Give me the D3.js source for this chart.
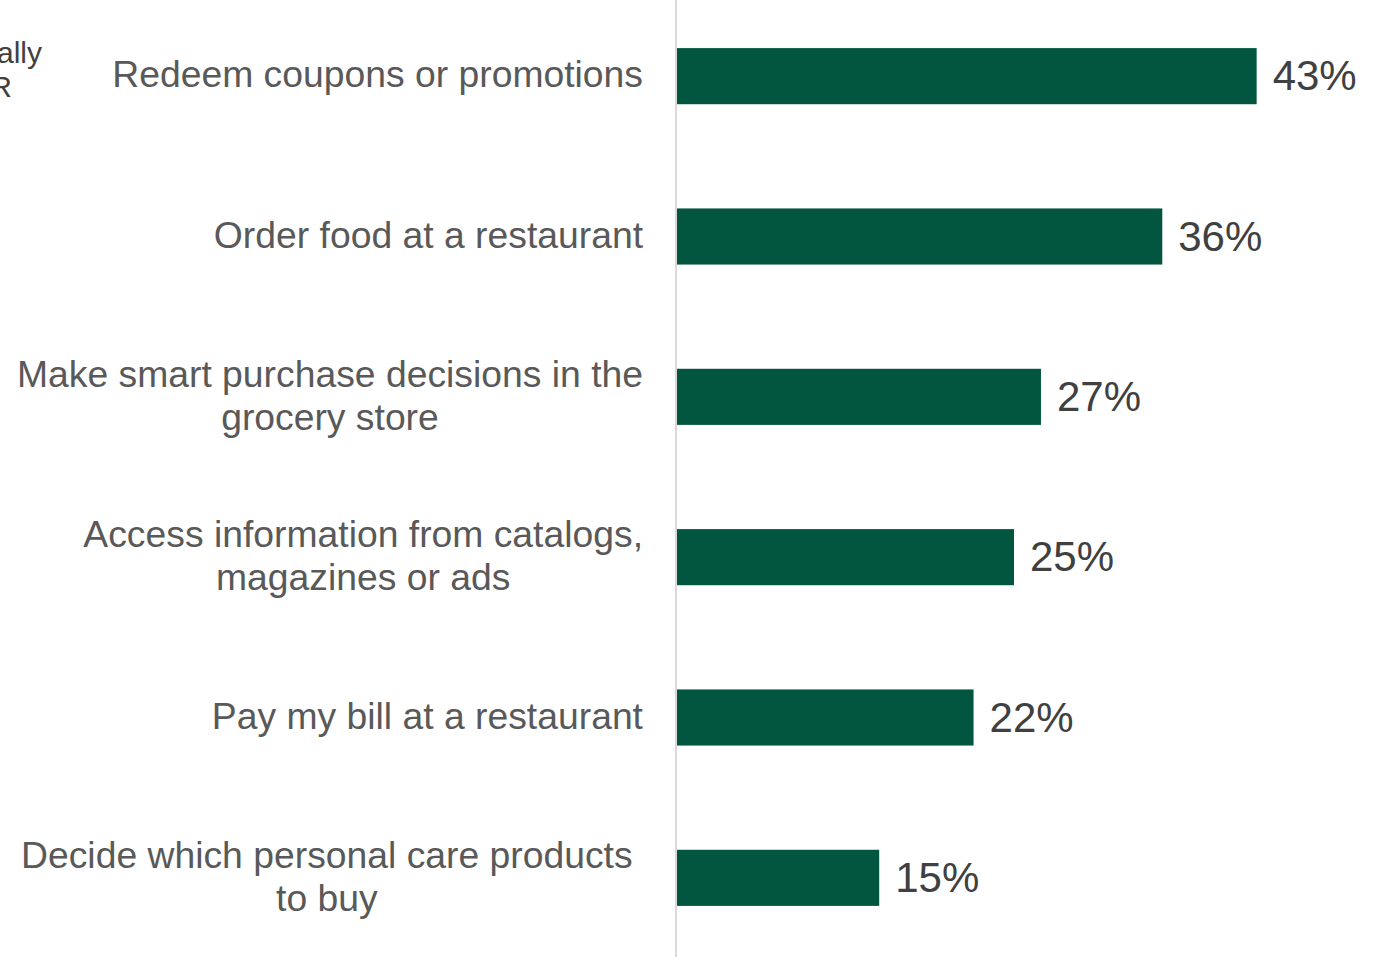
<!DOCTYPE html>
<html>
<head>
<meta charset="utf-8">
<script src="https://cdn.jsdelivr.net/npm/d3@7"></script>
<style>
  html, body { margin: 0; padding: 0; background: #ffffff; }
  svg { display: block; }
</style>
</head>
<body>
<div id="chart"></div>
<script>
// Share of respondents by activity (percent)
const categories = [
  ["Redeem coupons or promotions"],
  ["Order food at a restaurant"],
  ["Make smart purchase decisions in the", "grocery store"],
  ["Access information from catalogs,", "magazines or ads"],
  ["Pay my bill at a restaurant"],
  ["Decide which personal care products ", "to buy"]
];
const values = [43, 36, 27, 25, 22, 15];
const valueLabels = ["43%", "36%", "27%", "25%", "22%", "15%"];
// Title fragment at the left edge
const titleLines = ["ally", "R"];

const W = 1385, H = 957;
const svg = d3.select("#chart").append("svg")
  .attr("width", W).attr("height", H);

const ids = d3.range(categories.length);

const x = d3.scaleLinear().domain([0, 100]).range([677, 677 + 1348]);
const y = d3.scaleBand().domain(ids).range([-4, 958])
  .paddingInner(0.65).paddingOuter(0.325);

// Category axis line
svg.append("line")
  .attr("x1", 676).attr("x2", 676)
  .attr("y1", 0).attr("y2", H)
  .attr("stroke", "#d9d9d9").attr("stroke-width", 2);

// Bars
svg.selectAll("rect.bar").data(ids).join("rect")
  .attr("class", "bar")
  .attr("x", x(0))
  .attr("y", i => y(i))
  .attr("width", i => x(values[i]) - x(0))
  .attr("height", y.bandwidth())
  .attr("fill", "#02553e");

// Value labels
svg.selectAll("text.val").data(ids).join("text")
  .attr("class", "val")
  .attr("x", i => x(values[i]) + 16)
  .attr("y", i => y(i) + y.bandwidth() / 2)
  .attr("dy", "0.34em")
  .attr("font-family", "Liberation Sans, Arial, sans-serif")
  .attr("font-size", 42)
  .attr("fill", "#404040")
  .text(i => valueLabels[i]);

// Category labels (multi-line labels are centred as a block ending at the axis gap;
// a trailing space on a line pulls the block left by the width of that space)
const labelRight = 643;
const fontSize = 37.3;
const lineGap = 43;
ids.forEach(i => {
  const lines = categories[i];
  const cy = y(i) + y.bandwidth() / 2;
  const t = svg.append("text")
    .attr("font-family", "Liberation Sans, Arial, sans-serif")
    .attr("font-size", fontSize)
    .attr("fill", "#595959");
  const spans = lines.map((ln, k) => t.append("tspan")
    .attr("y", cy + (k - (lines.length - 1) / 2) * lineGap)
    .attr("dy", "0.3em")
    .text(ln.trimEnd()));
  if (lines.length === 1) {
    t.attr("text-anchor", "end");
    spans[0].attr("x", labelRight);
  } else {
    const widths = spans.map(s => s.node().getComputedTextLength());
    const trail = lines.some(ln => ln.endsWith(" ")) ? fontSize * 0.278 : 0;
    const cx = labelRight - trail - d3.max(widths) / 2;
    t.attr("text-anchor", "middle");
    spans.forEach(s => s.attr("x", cx));
  }
});

// Title fragment
svg.append("g").selectAll("text").data(titleLines).join("text")
  .attr("x", (d, k) => k === 0 ? 42 : 12)
  .attr("y", (d, k) => 63 + k * 34)
  .attr("text-anchor", "end")
  .attr("font-family", "Liberation Sans, Arial, sans-serif")
  .attr("font-size", 30)
  .attr("fill", "#404040")
  .text(d => d);
</script>
</body>
</html>
